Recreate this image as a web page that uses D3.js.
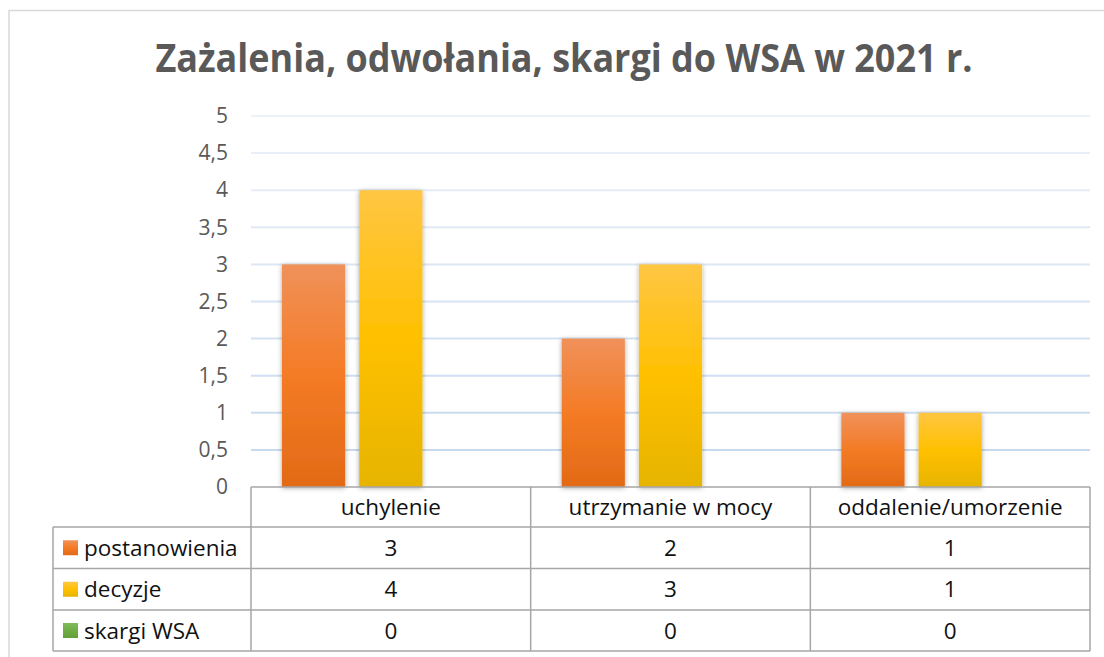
<!DOCTYPE html>
<html>
<head>
<meta charset="utf-8">
<script src="https://cdn.jsdelivr.net/npm/d3@7"></script>
<style>
  html, body { margin: 0; padding: 0; background: #fff; }
  svg { display: block; font-family: "Open Sans", "Noto Sans", sans-serif; }
</style>
</head>
<body>
<div id="chart"></div>
<script>
// data
const title = "Zażalenia, odwołania, skargi do WSA w 2021 r.";
const categories = ["uchylenie", "utrzymanie w mocy", "oddalenie/umorzenie"];
const seriesNames = ["postanowienia", "decyzje", "skargi WSA"];
const postanowienia = [3, 2, 1];
const decyzje = [4, 3, 1];
const skargiWSA = [0, 0, 0];
const yTicks = [0, 0.5, 1, 1.5, 2, 2.5, 3, 3.5, 4, 4.5, 5];

const seriesValues = [postanowienia, decyzje, skargiWSA];
const series = seriesNames.map((name, i) => ({name, key: "s" + i, values: seriesValues[i]}));

const W = 1104, H = 657;
const plot = {left: 251, right: 1090, top: 116, bottom: 487};
const rowH = [40, 41.5, 41.5, 41];   // header + 3 rows
const tableLeft = 53;
const cellFont = 22.5;

const svg = d3.select("#chart").append("svg")
    .attr("width", W).attr("height", H);

const defs = svg.append("defs");

// gradients like the office theme bars
const grads = [
  ["#f0915a", "#f47b25", "#e36a16"],
  ["#ffc643", "#ffc000", "#e6b400"],
  ["#80bb5c", "#70ad47", "#62a03a"]
];
grads.forEach((c, i) => {
  const g = defs.append("linearGradient").attr("id", "grad" + i)
      .attr("x1", 0).attr("y1", 0).attr("x2", 0).attr("y2", 1);
  g.append("stop").attr("offset", "0%").attr("stop-color", c[0]);
  g.append("stop").attr("offset", "50%").attr("stop-color", c[1]);
  g.append("stop").attr("offset", "100%").attr("stop-color", c[2]);
});

const shadow = defs.append("filter").attr("id", "shadow")
    .attr("x", "-20%").attr("y", "-10%").attr("width", "140%").attr("height", "120%");
shadow.append("feDropShadow")
    .attr("dx", 0).attr("dy", 1).attr("stdDeviation", 2.5)
    .attr("flood-color", "#000").attr("flood-opacity", 0.35);

// outer chart frame (runs off the right and bottom)
svg.append("rect")
    .attr("x", 9).attr("y", 10.5)
    .attr("width", W + 20).attr("height", H + 20)
    .attr("fill", "none").attr("stroke", "#d9d9d9").attr("stroke-width", 1.5);

// title
svg.append("text")
    .attr("x", 564).attr("y", 72)
    .attr("text-anchor", "middle")
    .attr("font-size", 39).attr("font-weight", "bold")
    .attr("fill", "#595959")
    .attr("textLength", 817).attr("lengthAdjust", "spacingAndGlyphs")
    .text(title);

// scales
const x = d3.scaleBand().domain(categories).range([plot.left, plot.right]).paddingInner(0).paddingOuter(0);
const x1 = d3.scaleBand().domain(series.map(s => s.key))
    .range([31, x.bandwidth() - 31]).paddingInner(0.182).paddingOuter(0);
const y = d3.scaleLinear().domain([0, 5]).range([plot.bottom, plot.top]);

// gridlines, fading toward the top
const gridColor = d3.interpolateRgb("#c3d6ed", "#edf2f9");
svg.append("g").selectAll("line")
  .data(yTicks.filter(t => t > 0))
  .join("line")
    .attr("x1", plot.left).attr("x2", plot.right)
    .attr("y1", d => y(d)).attr("y2", d => y(d))
    .attr("stroke", d => gridColor(d / 5))
    .attr("stroke-width", 2);

// y axis labels
const yAxis = svg.append("g")
    .attr("transform", `translate(${plot.left - 23},0)`)
    .call(d3.axisLeft(y).tickValues(yTicks).tickSize(0).tickPadding(0)
      .tickFormat(d => String(d).replace(".", ",")));
yAxis.select(".domain").remove();
yAxis.selectAll("text")
    .attr("font-family", "'Open Sans', sans-serif")
    .attr("font-size", 21).attr("fill", "#595959");

// bars
const groups = svg.append("g").selectAll("g")
  .data(categories)
  .join("g")
    .attr("transform", d => `translate(${x(d)},0)`);

groups.selectAll("rect")
  .data((c, ci) => series.map((s, si) => ({key: s.key, si, v: s.values[ci]})).filter(d => d.v > 0))
  .join("rect")
    .attr("x", d => x1(d.key))
    .attr("width", x1.bandwidth())
    .attr("y", d => y(d.v))
    .attr("height", d => y(0) - y(d.v))
    .attr("fill", d => `url(#grad${d.si})`)
    .attr("filter", "url(#shadow)");

// data table
const rowTop = [plot.bottom];
rowH.forEach((h, i) => rowTop.push(rowTop[i] + h));
const table = svg.append("g");
const lineColor = "#a6a6a6";

// horizontal lines
rowTop.forEach((yy, i) => {
  table.append("line")
      .attr("x1", i === 0 ? plot.left : tableLeft).attr("x2", plot.right)
      .attr("y1", yy).attr("y2", yy)
      .attr("stroke", lineColor).attr("stroke-width", 1.5);
});
// vertical lines
table.append("line")
    .attr("x1", tableLeft).attr("x2", tableLeft)
    .attr("y1", rowTop[1]).attr("y2", rowTop[4])
    .attr("stroke", lineColor).attr("stroke-width", 1.5);
[...categories.map(c => x(c)), plot.right].forEach(xx => {
  table.append("line")
      .attr("x1", xx).attr("x2", xx)
      .attr("y1", rowTop[0]).attr("y2", rowTop[4])
      .attr("stroke", lineColor).attr("stroke-width", 1.5);
});

// header labels
table.selectAll("text.cat")
  .data(categories)
  .join("text")
    .attr("class", "cat")
    .attr("x", d => x(d) + x.bandwidth() / 2)
    .attr("y", (rowTop[0] + rowTop[1]) / 2 + 8)
    .attr("text-anchor", "middle")
    .attr("font-size", cellFont).attr("fill", "#111")
    .text(d => d);

// series rows
series.forEach((s, si) => {
  const mid = (rowTop[si + 1] + rowTop[si + 2]) / 2;
  table.append("rect")
      .attr("x", 63).attr("y", mid - 7.5)
      .attr("width", 15).attr("height", 15)
      .attr("fill", `url(#grad${si})`);
  table.append("text")
      .attr("x", 84).attr("y", mid + 8)
      .attr("font-size", cellFont).attr("fill", "#111")
      .text(s.name);
  table.selectAll(null)
    .data(s.values)
    .join("text")
      .attr("x", (d, ci) => x(categories[ci]) + x.bandwidth() / 2)
      .attr("y", mid + 8)
      .attr("text-anchor", "middle")
      .attr("font-size", cellFont).attr("fill", "#111")
      .text(d => d);
});
</script>
</body>
</html>
